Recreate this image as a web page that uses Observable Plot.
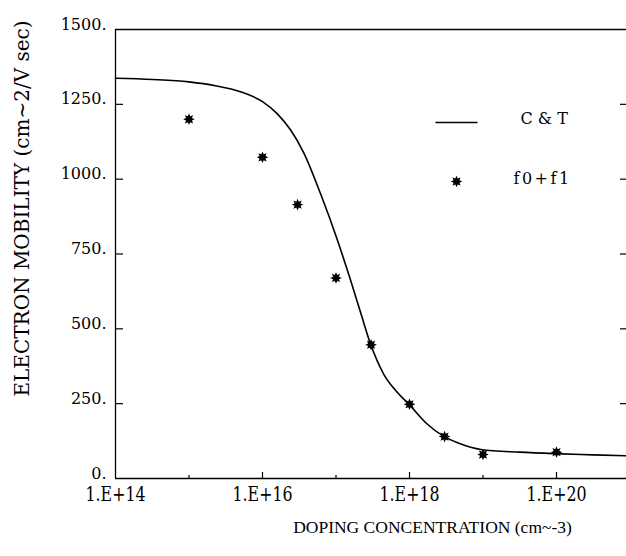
<!DOCTYPE html>
<html>
<head>
<meta charset="utf-8">
<script src="https://cdn.jsdelivr.net/npm/d3@7"></script>
<script src="https://cdn.jsdelivr.net/npm/@observablehq/plot@0.6"></script>
<style>
  html, body { margin: 0; padding: 0; background: white; }
</style>
</head>
<body>
<div id="chart"></div>
<script>
// C & T curve
const curveConcentration = [1e14, 3.16e14, 1e15, 2.29e15, 5.01e15, 1e16, 1.58e16, 2.4e16, 3.63e16, 6.17e16, 1.05e17, 1.58e17, 2.14e17, 2.95e17, 4.47e17, 6.76e17, 1e18, 1.74e18, 2.82e18, 5.01e18, 9.33e18, 3.16e19, 9.12e19, 3.16e20, 8.91e20];
const curveMobility = [1337, 1333, 1325, 1312, 1292, 1259, 1219, 1165, 1089, 951, 795, 662, 558, 449, 348, 289, 246, 182, 143, 115, 97, 88, 83, 79, 76];

// f0+f1 points
const pointConcentration = [1e15, 1e16, 3e16, 1e17, 3e17, 1e18, 3e18, 1e19, 1e20];
const pointMobility = [1200, 1073, 915, 670, 447, 248, 140, 80, 88];

// ticks
const yTicks = [0, 250, 500, 750, 1000, 1250, 1500];
const yInnerTicks = [250, 500, 750, 1000, 1250];
const xMajorTicks = [1e14, 1e16, 1e18, 1e20];
const xMinorTicks = [1e15, 1e17, 1e19];

const xLabel = "DOPING CONCENTRATION (cm~-3)";
const yLabel = "ELECTRON MOBILITY (cm~2/V sec)";
const legendLabels = ["C & T", "f0+f1"];

const curve = curveConcentration.map((c, i) => ({c, m: curveMobility[i]}));
const points = pointConcentration.map((c, i) => ({c, m: pointMobility[i]}));

const star8 = {
  draw(context, size) {
    const R = Math.sqrt(size / Math.PI);
    const r = R * 0.55;
    for (let i = 0; i < 16; i++) {
      const a = i * Math.PI / 8 - Math.PI / 2;
      const rad = i % 2 === 0 ? R : r;
      const px = rad * Math.cos(a), py = rad * Math.sin(a);
      if (i === 0) context.moveTo(px, py); else context.lineTo(px, py);
    }
    context.closePath();
  }
};
const hline = {
  draw(context) { context.moveTo(-21, 0); context.lineTo(21, 0); }
};

const W = 626, H = 556, ML = 115, MT = 29, MB = 78, MR = 0;
const frameW = W - ML - MR, frameH = H - MT - MB;

const chart = Plot.plot({
  width: W,
  height: H,
  marginLeft: ML,
  marginTop: MT,
  marginBottom: MB,
  marginRight: MR,
  style: {fontFamily: "DejaVu Serif", fontSize: "16px", background: "white", color: "black"},
  x: {type: "log", domain: [1e14, 8.96e20]},
  y: {domain: [0, 1500]},
  marks: [
    Plot.ruleY([0], {stroke: "black", strokeWidth: 1.3}),
    Plot.ruleY([1500], {stroke: "black", strokeWidth: 1.3}),
    Plot.ruleX([1e14], {stroke: "black", strokeWidth: 1.3}),
    // tick labels
    Plot.axisY({ticks: yTicks, tickSize: 0, tickPadding: 9, tickFormat: d => d + ".", fontSize: 16, dy: -5, label: null}),
    Plot.axisX({ticks: xMajorTicks, tickSize: 0, tickPadding: 8, tickFormat: d => "1.E+" + Math.round(Math.log10(d)), fontSize: 21, label: null}),
    // inward ticks
    Plot.tickY(yInnerTicks, {y: d => d, insetRight: frameW - 8, stroke: "black", strokeWidth: 1.2}),
    Plot.tickY(yInnerTicks, {y: d => d, insetLeft: frameW - 6, stroke: "black", strokeWidth: 1.2}),
    Plot.tickX(xMajorTicks.slice(1), {x: d => d, insetTop: frameH - 6, stroke: "black", strokeWidth: 1.2}),
    Plot.tickX(xMinorTicks, {x: d => d, insetTop: frameH - 3, stroke: "black", strokeWidth: 1.2}),
    // data
    Plot.line(curve, {x: "c", y: "m", curve: "monotone-x", stroke: "black", strokeWidth: 1.6}),
    Plot.dot(points, {x: "c", y: "m", symbol: star8, r: 5.8, fill: "black", stroke: "none"}),
    // legend
    Plot.dot([0], {frameAnchor: "top-left", dx: 341, dy: 93, symbol: hline, stroke: "black", fill: "none", strokeWidth: 1.5, r: 3}),
    Plot.text([legendLabels[0]], {frameAnchor: "top-left", dx: 405, dy: 94, textAnchor: "start", lineAnchor: "bottom", fontSize: 16}),
    Plot.dot([0], {frameAnchor: "top-left", dx: 341, dy: 152, symbol: star8, r: 5.8, fill: "black", stroke: "none"}),
    Plot.text([legendLabels[1]], {frameAnchor: "top-left", dx: 398, dy: 154, textAnchor: "start", lineAnchor: "bottom", fontSize: 16}),
    // axis titles
    Plot.text([xLabel], {frameAnchor: "bottom", dx: 61.5, dy: 54, textAnchor: "middle", lineAnchor: "bottom", fontSize: 17.5, fontFamily: "Liberation Serif"}),
    Plot.text([yLabel], {frameAnchor: "left", dx: -87, dy: -45.5, rotate: -90, textAnchor: "middle", lineAnchor: "bottom", fontSize: 20})
  ]
});

const svg = d3.select(chart);
svg.selectAll("text").filter(function () { return /^1\.E\+/.test(this.textContent); })
  .attr("textLength", 60).attr("lengthAdjust", "spacingAndGlyphs");
svg.selectAll("text").filter(function () { return this.textContent === legendLabels[1]; })
  .attr("letter-spacing", "2.5px");

document.getElementById("chart").appendChild(chart);
</script>
</body>
</html>
